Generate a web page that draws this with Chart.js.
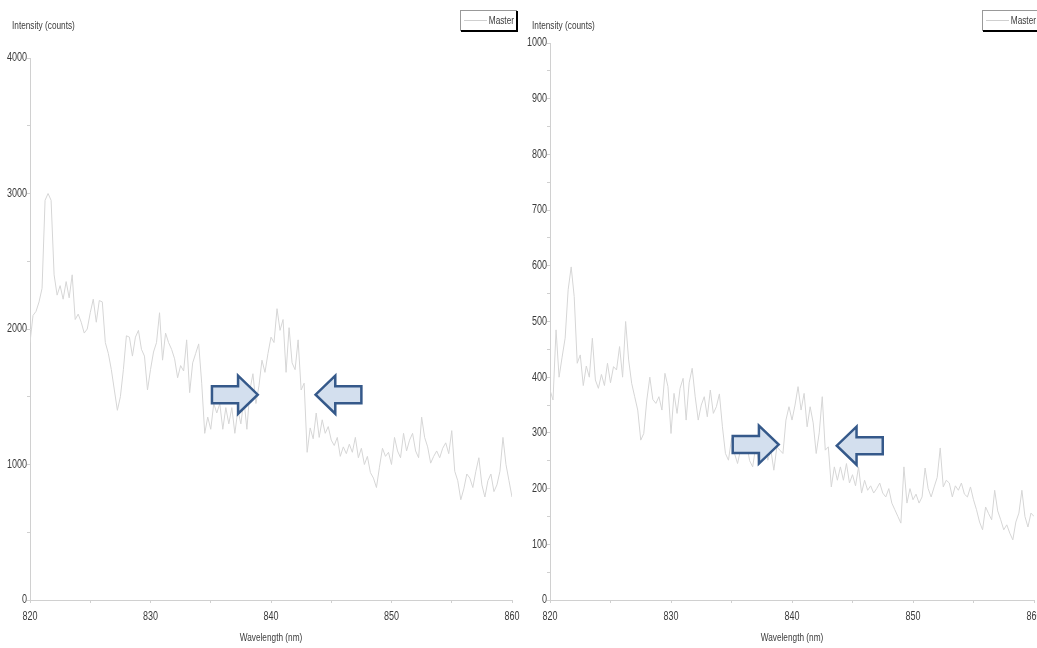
<!DOCTYPE html>
<html>
<head>
<meta charset="utf-8">
<script src="https://cdn.jsdelivr.net/npm/chart.js@4/dist/chart.umd.min.js"></script>
<style>
  html, body { margin: 0; padding: 0; background: #fff; overflow: hidden; }
  body { width: 1037px; height: 648px; position: relative; }
  .panel { position: absolute; top: 0; width: 530px; height: 648px; }
  #left { left: 0; }
  #right { left: 518px; }
</style>
</head>
<body>
<div class="panel" id="left"><canvas id="chartLeft" width="530" height="648"></canvas></div>
<div class="panel" id="right"><canvas id="chartRight" width="530" height="648"></canvas></div>
<script>
// wavelength grid, 820 - 860 nm, every 0.25 nm
const wavelengths = Array.from({ length: 161 }, (_, i) => 820 + i * 0.25);

// left spectrum (counts)
const leftIntensity = [
    1900, 2100, 2130, 2200,
    2300, 2950, 3000, 2950,
    2400, 2250, 2320, 2220,
    2350, 2230, 2400, 2070,
    2110, 2050, 1970, 2000,
    2120, 2220, 2050, 2210,
    2200, 1900, 1820, 1700,
    1550, 1400, 1500, 1700,
    1950, 1940, 1800, 1940,
    1990, 1850, 1800, 1550,
    1700, 1830, 1900, 2120,
    1770, 1970, 1900, 1850,
    1780, 1640, 1730, 1690,
    1920, 1530, 1750, 1820,
    1890, 1600, 1230, 1350,
    1260, 1450, 1380, 1450,
    1260, 1420, 1300, 1420,
    1230, 1400, 1300, 1480,
    1260, 1550, 1670, 1450,
    1580, 1770, 1680, 1820,
    1940, 1900, 2150, 1990,
    2070, 1680, 2010, 1750,
    1700, 1920, 1550, 1600,
    1090, 1270, 1190, 1380,
    1200, 1330, 1230, 1280,
    1180, 1140, 1200, 1060,
    1130, 1080, 1150, 1090,
    1200, 1050, 1120, 1000,
    1060, 940, 900, 830,
    980, 1120, 1060, 1090,
    1000, 1200, 1100, 1050,
    1230, 1100, 1180, 1230,
    1100, 1050, 1350, 1200,
    1130, 1010, 1060, 1100,
    1050, 1120, 1160, 1080,
    1250, 950, 880, 740,
    820, 930, 900, 830,
    950, 1050, 850, 760,
    880, 930, 800, 850,
    950, 1200, 1000, 880,
    760
];

// right spectrum (counts)
const rightIntensity = [
    377, 359, 485, 400,
    436, 470, 557, 598,
    545, 425, 440, 385,
    420, 400, 470, 395,
    380, 405, 385, 425,
    390, 419, 413, 455,
    400, 500, 431, 389,
    365, 341, 287, 299,
    359, 400, 360, 353,
    365, 341, 407, 383,
    299, 371, 335, 380,
    398, 323, 390, 416,
    365, 323, 350, 365,
    329, 377, 335, 347,
    370, 311, 263, 251,
    290, 263, 245, 270,
    263, 280, 250, 239,
    275, 250, 257, 290,
    251, 270, 233, 275,
    269, 263, 323, 347,
    323, 350, 383, 341,
    371, 311, 347, 318,
    263, 300, 365, 269,
    275, 203, 239, 215,
    239, 215, 245, 210,
    225, 205, 239, 192,
    215, 197, 205, 192,
    200, 210, 192, 185,
    200, 174, 162, 150,
    138, 239, 174, 200,
    180, 190, 174, 185,
    237, 200, 185, 203,
    220, 273, 203, 215,
    210, 185, 205, 197,
    210, 190, 185, 203,
    180, 162, 140, 126,
    167, 155, 144, 197,
    160, 144, 126, 135,
    120, 108, 140, 156,
    197, 150, 131, 156,
    150
];

const seriesName = 'Master';
const yTitle = 'Intensity (counts)';
const xTitle = 'Wavelength (nm)';

const FONT = '"Liberation Sans", Arial, sans-serif';
const NARROW = 0.75; // squeeze to look like Arial Narrow

// draws condensed text
function narrowText(ctx, text, x, y, size, align) {
    ctx.save();
    ctx.font = size + 'px ' + FONT;
    ctx.textAlign = align;
    ctx.textBaseline = 'middle';
    ctx.translate(x, y);
    ctx.scale(NARROW, 1);
    ctx.fillText(text, 0, 0);
    ctx.restore();
}

function drawArrow(ctx, xTail, xTip, yc, h, shaft) {
    const dir = xTip > xTail ? 1 : -1;
    const head = Math.abs(xTip - xTail) * 0.43;
    const xh = xTip - dir * head;
    ctx.save();
    ctx.beginPath();
    ctx.moveTo(xTail, yc - shaft / 2);
    ctx.lineTo(xh, yc - shaft / 2);
    ctx.lineTo(xh, yc - h / 2);
    ctx.lineTo(xTip, yc);
    ctx.lineTo(xh, yc + h / 2);
    ctx.lineTo(xh, yc + shaft / 2);
    ctx.lineTo(xTail, yc + shaft / 2);
    ctx.closePath();
    ctx.fillStyle = '#d3dfee';
    ctx.fill();
    ctx.lineJoin = 'miter';
    ctx.lineWidth = 2.5;
    ctx.strokeStyle = '#35598a';
    ctx.stroke();
    ctx.restore();
}

const decor = {
    id: 'decor',
    afterDatasetsDraw(chart, args, opts) {
        const ctx = chart.ctx;
        const xs = chart.scales.x, ys = chart.scales.y;
        opts.arrows.forEach(a => {
            drawArrow(ctx, xs.getPixelForValue(a.from), xs.getPixelForValue(a.to),
                ys.getPixelForValue(a.y), 38, 17);
        });
    },
    afterDraw(chart, args, opts) {
        const ctx = chart.ctx;
        const area = chart.chartArea;
        const xs = chart.scales.x, ys = chart.scales.y;
        ctx.save();
        ctx.fillStyle = '#3a3a3a';

        // tick labels
        xs.ticks.forEach(t => {
            if (t.value % opts.xLabelStep === 0) {
                narrowText(ctx, String(t.value), xs.getPixelForValue(t.value), 617, 12, 'center');
            }
        });
        ys.ticks.forEach(t => {
            if (t.value % opts.yLabelStep === 0) {
                narrowText(ctx, String(t.value), area.left - 3, ys.getPixelForValue(t.value), 12, 'right');
            }
        });

        // axis titles
        narrowText(ctx, yTitle, area.left - 18, 26, 11, 'left');
        narrowText(ctx, xTitle, (area.left + area.right) / 2, 638, 11, 'center');

        // legend box
        const bx = area.right - 52, by = 10, bw = 56, bh = 20;
        ctx.fillStyle = '#fff';
        ctx.fillRect(bx, by, bw, bh);
        ctx.strokeStyle = '#999';
        ctx.lineWidth = 1;
        ctx.strokeRect(bx + 0.5, by + 0.5, bw, bh);
        ctx.strokeStyle = '#000';
        ctx.lineWidth = 2;
        ctx.beginPath();
        ctx.moveTo(bx + 1, by + bh + 1);
        ctx.lineTo(bx + bw + 1, by + bh + 1);
        ctx.lineTo(bx + bw + 1, by + 1);
        ctx.stroke();
        ctx.strokeStyle = '#cfcfcf';
        ctx.lineWidth = 1;
        ctx.beginPath();
        ctx.moveTo(bx + 4, by + 10.5);
        ctx.lineTo(bx + 27, by + 10.5);
        ctx.stroke();
        ctx.fillStyle = '#3a3a3a';
        narrowText(ctx, seriesName, bx + bw - 2, by + bh / 2 + 1, 11, 'right');
        ctx.restore();
    }
};

function makeChart(id, values, yMax, yStep, yLabelStep, yWidth, pad, arrows) {
    const ctx = document.getElementById(id).getContext('2d');
    return new Chart(ctx, {
        type: 'line',
        data: {
            labels: wavelengths,
            datasets: [{
                label: seriesName,
                data: wavelengths.map((w, i) => ({ x: w, y: values[i] })),
                borderColor: '#d6d6d6',
                borderWidth: 1,
                pointRadius: 0,
                tension: 0,
                fill: false
            }]
        },
        options: {
            responsive: false,
            animation: false,
            layout: { padding: pad },
            plugins: {
                legend: { display: false },
                tooltip: { enabled: false },
                decor: { arrows: arrows, xLabelStep: 10, yLabelStep: yLabelStep }
            },
            scales: {
                x: {
                    type: 'linear',
                    min: 820,
                    max: 860,
                    afterFit: (scale) => { scale.height = 48; },
                    grid: { drawOnChartArea: false, color: '#d0d0d0', tickLength: 3 },
                    border: { color: '#d0d0d0' },
                    ticks: { display: false, stepSize: 5, autoSkip: false }
                },
                y: {
                    min: 0,
                    max: yMax,
                    afterFit: (scale) => { scale.width = yWidth; },
                    grid: { drawOnChartArea: false, color: '#d0d0d0', tickLength: 3 },
                    border: { color: '#d0d0d0' },
                    ticks: { display: false, stepSize: yStep, autoSkip: false }
                }
            }
        },
        plugins: [decor]
    });
}

makeChart('chartLeft', leftIntensity, 4000, 500, 1000, 30,
    { top: 58, right: 18, left: 0, bottom: 0 },
    [{ from: 835.1, to: 838.9, y: 1515 }, { from: 847.5, to: 843.7, y: 1515 }]);

makeChart('chartRight', rightIntensity, 1000, 50, 100, 32,
    { top: 43, right: 14, left: 0, bottom: 0 },
    [{ from: 835.1, to: 838.9, y: 279 }, { from: 847.5, to: 843.7, y: 277 }]);
</script>
</body>
</html>
